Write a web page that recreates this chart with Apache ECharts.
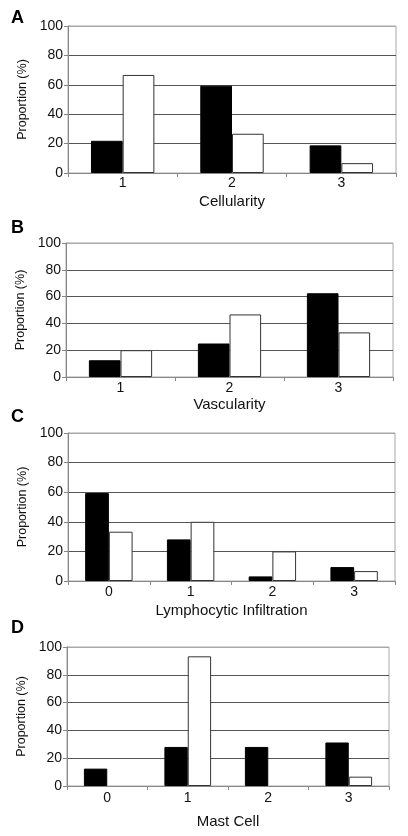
<!DOCTYPE html>
<html>
<head>
<meta charset="utf-8">
<script src="https://cdn.jsdelivr.net/npm/echarts@6/dist/echarts.min.js"></script>
<style>
html,body{margin:0;padding:0;background:#fff;}
#chart{width:408px;height:836px;}
</style>
</head>
<body>
<div id="chart"></div>
<script>
// ---- data ----
const panelLetters = ['A', 'B', 'C', 'D'];
const axisTitles = ['Cellularity', 'Vascularity', 'Lymphocytic Infiltration', 'Mast Cell'];
const catsA = ['1', '2', '3'];
const catsB = ['1', '2', '3'];
const catsC = ['0', '1', '2', '3'];
const catsD = ['0', '1', '2', '3'];
const blackA = [21.9, 59.4, 18.8];
const whiteA = [66.7, 26.7, 6.7];
const blackB = [12.5, 25.0, 62.5];
const whiteB = [20.0, 46.7, 33.3];
const blackC = [59.4, 28.1, 3.1, 9.4];
const whiteC = [33.3, 40.0, 20.0, 6.7];
const blackD = [12.5, 28.1, 28.1, 31.3];
const whiteD = [0, 93.3, 0, 6.7];
const yTicks = [0, 20, 40, 60, 80, 100];
const yName = 'Proportion (%)';

// ---- layout ----
const layout = [
  {left: 68, right: 12, top: 26, height: 147, lblMargin: 3, nameGap: 21, yNameGap: 33, letterY: 18},
  {left: 66, right: 15, top: 243, height: 134, lblMargin: 4, nameGap: 20, yNameGap: 33, letterY: 228},
  {left: 68, right: 13, top: 433, height: 148, lblMargin: 4, nameGap: 22, yNameGap: 33, letterY: 417},
  {left: 67, right: 19, top: 647, height: 139, lblMargin: 5, nameGap: 28, yNameGap: 33, letterY: 628}
];
const cats = [catsA, catsB, catsC, catsD];
const blacks = [blackA, blackB, blackC, blackD];
const whites = [whiteA, whiteB, whiteC, whiteD];
const FONT = '"Liberation Sans", Arial, sans-serif';

function toItems(arr) {
  return arr.map(v => v === 0 ? {value: v, itemStyle: {borderWidth: 0}} : v);
}

const grids = [], xAxes = [], yAxes = [], series = [], graphics = [];
for (let i = 0; i < 4; i++) {
  const L = layout[i];
  grids.push({left: L.left, right: L.right, top: L.top, height: L.height,
    show: true, borderColor: '#a8a8a8', borderWidth: 1, backgroundColor: 'transparent'});
  xAxes.push({
    type: 'category', gridIndex: i, data: cats[i],
    name: axisTitles[i], nameLocation: 'middle', nameGap: L.nameGap,
    nameTextStyle: {fontFamily: FONT, fontSize: 15, color: '#111'},
    axisLine: {show: true, lineStyle: {color: '#888', width: 1}},
    axisTick: {show: true, length: 4, lineStyle: {color: '#888'}},
    axisLabel: {fontFamily: FONT, fontSize: 14, color: '#111', margin: L.lblMargin},
    splitLine: {show: false}
  });
  yAxes.push({
    type: 'value', gridIndex: i, min: yTicks[0], max: yTicks[yTicks.length - 1], interval: yTicks[1] - yTicks[0],
    name: yName, nameLocation: 'middle', nameGap: L.yNameGap,
    nameTextStyle: {fontFamily: FONT, fontSize: 12.5, color: '#111'},
    axisLine: {show: true, lineStyle: {color: '#888', width: 1}},
    axisTick: {show: true, length: 4, lineStyle: {color: '#888'}},
    axisLabel: {fontFamily: FONT, fontSize: 14, color: '#111', margin: 5},
    splitLine: {show: true, lineStyle: {color: ['#888', '#555', '#555', '#555', '#555', '#a8a8a8'], width: 1}}
  });
  series.push({
    type: 'bar', xAxisIndex: i, yAxisIndex: i, data: toItems(blacks[i]),
    barGap: '0%', barCategoryGap: '42%',
    itemStyle: {color: '#000', borderColor: '#000', borderWidth: 1}
  });
  series.push({
    type: 'bar', xAxisIndex: i, yAxisIndex: i, data: toItems(whites[i]),
    barGap: '0%', barCategoryGap: '42%',
    itemStyle: {color: '#fff', borderColor: '#333', borderWidth: 1}
  });
  graphics.push({
    type: 'text', left: 11, top: L.letterY - 9,
    style: {text: panelLetters[i], font: 'bold 18px ' + FONT, fill: '#000'}
  });
}

const chart = echarts.init(document.getElementById('chart'), null, {renderer: 'canvas'});
chart.setOption({
  animation: false,
  backgroundColor: '#fff',
  grid: grids, xAxis: xAxes, yAxis: yAxes, series: series, graphic: graphics
});
</script>
</body>
</html>
